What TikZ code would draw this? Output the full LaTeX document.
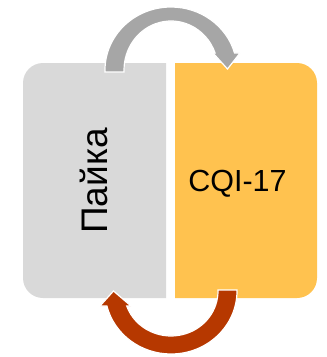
\documentclass[tikz,border=0pt]{standalone}
\usepackage{fontspec}
\setmainfont{Liberation Sans}
\definecolor{boxgray}{RGB}{217,217,217}
\definecolor{boxgold}{RGB}{255,194,79}
\definecolor{arrgray}{RGB}{166,166,166}
\definecolor{arrred}{RGB}{182,56,0}
\begin{document}
\begin{tikzpicture}[x=1pt,y=-1pt,
  arrowshape/.style={draw=white,line width=1.2pt,line join=miter},
  lbl/.style={inner sep=0pt,text=black}]
\useasboundingbox (0,0) rectangle (327,357);
% boxes
\fill[boxgray] (166,63) -- (43,63) arc[start angle=270,end angle=180,radius=20]
  -- (23,278) arc[start angle=180,end angle=90,radius=20] -- (166,298) -- cycle;
\fill[boxgold] (175,63) -- (297,63) arc[start angle=270,end angle=360,radius=20]
  -- (317,278) arc[start angle=0,end angle=90,radius=20] -- (175,298) -- cycle;
% top arrow
\path[arrowshape,fill=arrgray] (105,72) -- (105,70)
  arc[start angle=180,end angle=344.3,x radius=66,y radius=63]
  -- (240,53) -- (227.5,69) -- (213,53) -- (215.1,53)
  arc[start angle=339.7,end angle=180,x radius=47,y radius=49]
  -- (124,72) -- cycle;
% bottom arrow
\path[arrowshape,fill=arrred] (237,290) -- (237,291)
  arc[start angle=0,end angle=166.2,x radius=66,y radius=63]
  -- (100,306) -- (113.5,291) -- (131,306) -- (126.7,306)
  arc[start angle=160.5,end angle=0,x radius=47,y radius=45]
  -- (218,290) -- cycle;
% labels
\node[lbl,rotate=90,anchor=base,font=\fontsize{37}{40}\selectfont] (paika) at (107,181) {Пайка};
\node[lbl,anchor=base,font=\fontsize{30.5}{34}\selectfont] (cqi) at (237.5,191.7) {CQI-17};
\end{tikzpicture}
\end{document}
